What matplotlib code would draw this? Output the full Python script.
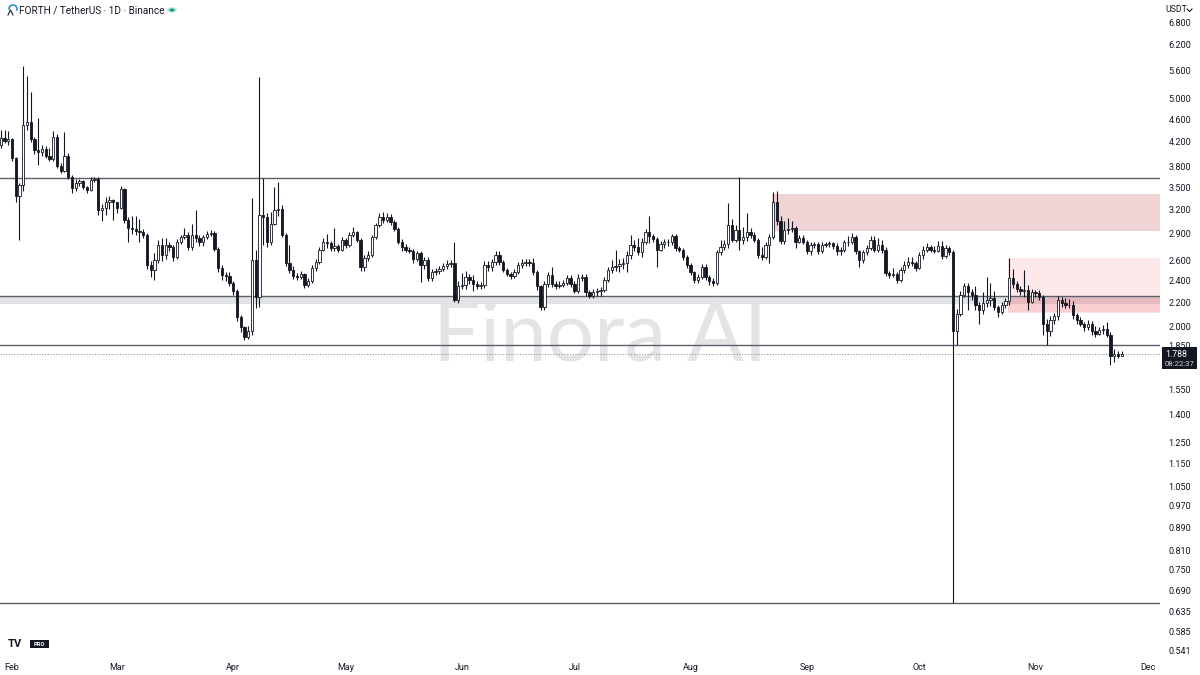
import numpy as np
import pandas as pd
import matplotlib
matplotlib.use("Agg")
import matplotlib.pyplot as plt
import matplotlib.dates as mdates
from matplotlib.patches import Rectangle, Circle, Arc
from matplotlib.ticker import NullLocator

# ---------------- data (FORTH/USDT daily) ----------------
start_date = "2025-01-29"
first_open = 4.14
close = [4.26, 4.22, 4.24, 3.93, 3.37, 3.53, 4.49, 4.55, 4.24, 4.06,
         4.03, 4.08, 3.96, 3.91, 4.28, 3.81, 3.73, 3.96, 3.65, 3.49,
         3.56, 3.58, 3.50, 3.46, 3.60, 3.62, 3.19, 3.22, 3.30, 3.32,
         3.29, 3.22, 3.47, 3.06, 2.97, 2.96, 2.93, 2.92, 2.89, 2.56,
         2.51, 2.61, 2.77, 2.66, 2.77, 2.75, 2.64, 2.81, 2.86, 2.89,
         2.75, 2.89, 2.85, 2.80, 2.86, 2.90, 2.91, 2.73, 2.53, 2.46,
         2.45, 2.38, 2.30, 2.07, 1.99, 1.91, 1.96, 2.61, 2.25, 3.13,
         3.10, 2.81, 3.02, 3.19, 3.20, 2.89, 2.58, 2.51, 2.45, 2.44,
         2.47, 2.36, 2.40, 2.53, 2.59, 2.72, 2.80, 2.79, 2.74, 2.76,
         2.72, 2.83, 2.77, 2.89, 2.92, 2.83, 2.54, 2.63, 2.66, 2.86,
         3.00, 3.10, 3.06, 3.10, 3.04, 2.96, 2.81, 2.75, 2.72, 2.71,
         2.62, 2.68, 2.56, 2.61, 2.43, 2.49, 2.50, 2.52, 2.55, 2.57,
         2.58, 2.22, 2.35, 2.36, 2.44, 2.41, 2.37, 2.35, 2.36, 2.56,
         2.54, 2.59, 2.66, 2.59, 2.51, 2.47, 2.45, 2.49, 2.56, 2.58,
         2.59, 2.58, 2.49, 2.35, 2.16, 2.37, 2.46, 2.37, 2.35, 2.36,
         2.38, 2.43, 2.37, 2.30, 2.43, 2.44, 2.29, 2.26, 2.29, 2.30,
         2.31, 2.41, 2.51, 2.54, 2.55, 2.57, 2.58, 2.66, 2.77, 2.75,
         2.69, 2.81, 2.92, 2.87, 2.84, 2.72, 2.78, 2.80, 2.81, 2.87,
         2.74, 2.72, 2.64, 2.56, 2.49, 2.41, 2.44, 2.54, 2.44, 2.40,
         2.38, 2.69, 2.75, 2.78, 3.00, 2.83, 2.94, 2.83, 2.86, 2.92,
         2.89, 2.83, 2.66, 2.64, 2.77, 2.86, 3.30, 3.05, 2.82, 2.94,
         2.96, 2.97, 2.81, 2.85, 2.81, 2.70, 2.77, 2.78, 2.70, 2.77,
         2.78, 2.79, 2.76, 2.70, 2.72, 2.80, 2.81, 2.86, 2.70, 2.61,
         2.69, 2.74, 2.83, 2.72, 2.77, 2.72, 2.48, 2.46, 2.47, 2.41,
         2.51, 2.56, 2.59, 2.58, 2.53, 2.66, 2.72, 2.75, 2.72, 2.71,
         2.76, 2.65, 2.74, 2.69, 1.96, 2.10, 2.27, 2.35, 2.29, 2.27,
         2.18, 2.13, 2.19, 2.22, 2.24, 2.16, 2.12, 2.18, 2.21, 2.43,
         2.37, 2.32, 2.30, 2.31, 2.20, 2.29, 2.28, 2.25, 2.02, 1.96,
         2.05, 2.08, 2.22, 2.19, 2.18, 2.18, 2.09, 2.05, 2.02, 1.99,
         2.02, 1.96, 1.94, 1.97, 1.98, 1.93, 1.77, 1.79, 1.775, 1.788]
high = [4.40, 4.40, 4.38, 4.26, 3.95, 3.56, 5.70, 5.47, 5.14, 4.28,
        4.62, 4.14, 4.12, 4.09, 4.38, 4.33, 3.85, 4.36, 4.01, 3.67,
        3.62, 3.62, 3.60, 3.52, 3.64, 3.65, 3.65, 3.27, 3.36, 3.37,
        3.34, 3.30, 3.52, 3.49, 3.10, 3.11, 3.11, 3.08, 2.95, 2.91,
        2.60, 2.68, 2.83, 2.85, 2.85, 2.80, 2.77, 2.84, 2.89, 2.97,
        2.92, 3.02, 3.19, 2.88, 2.89, 2.93, 2.94, 2.93, 2.75, 2.56,
        2.49, 2.49, 2.40, 2.32, 2.09, 2.00, 2.00, 3.35, 2.72, 5.45,
        3.63, 3.15, 3.17, 3.50, 3.57, 3.25, 2.91, 2.77, 2.55, 2.48,
        2.50, 2.48, 2.43, 2.56, 2.62, 2.75, 2.85, 2.90, 2.82, 2.97,
        2.78, 2.86, 2.85, 2.92, 2.98, 2.93, 2.85, 2.66, 2.70, 2.88,
        3.03, 3.15, 3.17, 3.15, 3.14, 3.06, 2.98, 2.84, 2.78, 2.75,
        2.73, 2.71, 2.70, 2.64, 2.64, 2.52, 2.53, 2.55, 2.58, 2.61,
        2.61, 2.81, 2.40, 2.48, 2.50, 2.47, 2.46, 2.40, 2.39, 2.60,
        2.60, 2.62, 2.70, 2.70, 2.61, 2.53, 2.49, 2.52, 2.59, 2.62,
        2.62, 2.62, 2.63, 2.51, 2.36, 2.40, 2.49, 2.54, 2.40, 2.40,
        2.41, 2.46, 2.46, 2.40, 2.47, 2.47, 2.47, 2.31, 2.32, 2.33,
        2.34, 2.44, 2.54, 2.61, 2.72, 2.62, 2.63, 2.70, 2.89, 2.83,
        2.85, 2.85, 2.95, 3.11, 2.90, 2.86, 2.82, 2.84, 2.84, 2.90,
        2.90, 2.76, 2.74, 2.66, 2.58, 2.50, 2.47, 2.57, 2.57, 2.46,
        2.43, 2.72, 2.83, 2.83, 3.28, 3.08, 3.00, 3.65, 2.98, 3.15,
        2.97, 2.92, 2.85, 2.75, 2.80, 2.90, 3.43, 3.44, 3.11, 3.05,
        3.09, 3.05, 2.99, 2.89, 2.88, 2.83, 2.80, 2.81, 2.80, 2.80,
        2.81, 2.82, 2.80, 2.79, 2.75, 2.83, 2.87, 2.91, 2.89, 2.72,
        2.72, 2.77, 2.87, 2.87, 2.85, 2.83, 2.75, 2.50, 2.53, 2.49,
        2.54, 2.60, 2.64, 2.64, 2.60, 2.69, 2.76, 2.79, 2.77, 2.76,
        2.82, 2.82, 2.77, 2.76, 2.72, 2.14, 2.30, 2.38, 2.38, 2.32,
        2.35, 2.20, 2.29, 2.44, 2.38, 2.30, 2.18, 2.20, 2.24, 2.63,
        2.52, 2.40, 2.35, 2.51, 2.36, 2.32, 2.31, 2.31, 2.27, 2.06,
        2.08, 2.11, 2.26, 2.25, 2.24, 2.23, 2.21, 2.11, 2.07, 2.03,
        2.05, 2.04, 2.00, 1.99, 2.01, 2.03, 1.95, 1.82, 1.81, 1.81]
low = [4.10, 4.18, 4.15, 3.88, 3.30, 2.83, 3.45, 4.40, 4.20, 4.00,
       3.83, 3.96, 3.93, 3.88, 3.88, 3.78, 3.70, 3.72, 3.62, 3.42,
       3.44, 3.52, 3.47, 3.42, 3.44, 3.57, 3.13, 3.05, 3.13, 3.20,
       3.06, 3.15, 3.20, 3.03, 2.80, 2.90, 2.88, 2.81, 2.85, 2.52,
       2.44, 2.41, 2.58, 2.60, 2.62, 2.70, 2.60, 2.62, 2.78, 2.84,
       2.72, 2.72, 2.80, 2.76, 2.76, 2.84, 2.87, 2.70, 2.49, 2.41,
       2.40, 2.35, 2.27, 2.04, 1.95, 1.89, 1.90, 1.93, 2.15, 2.16,
       2.77, 2.75, 2.77, 3.00, 3.12, 2.86, 2.55, 2.48, 2.42, 2.41,
       2.42, 2.33, 2.34, 2.38, 2.50, 2.57, 2.70, 2.74, 2.70, 2.70,
       2.69, 2.70, 2.74, 2.75, 2.86, 2.80, 2.50, 2.50, 2.60, 2.64,
       2.84, 2.98, 3.03, 3.04, 3.00, 2.93, 2.78, 2.70, 2.69, 2.68,
       2.58, 2.60, 2.39, 2.52, 2.40, 2.40, 2.46, 2.47, 2.50, 2.52,
       2.54, 2.20, 2.19, 2.32, 2.32, 2.37, 2.30, 2.32, 2.32, 2.33,
       2.50, 2.50, 2.56, 2.56, 2.49, 2.45, 2.42, 2.43, 2.47, 2.53,
       2.55, 2.55, 2.46, 2.31, 2.13, 2.13, 2.34, 2.34, 2.32, 2.33,
       2.34, 2.36, 2.34, 2.28, 2.28, 2.40, 2.26, 2.24, 2.24, 2.26,
       2.26, 2.29, 2.39, 2.48, 2.50, 2.49, 2.52, 2.49, 2.62, 2.70,
       2.66, 2.64, 2.78, 2.79, 2.80, 2.54, 2.70, 2.74, 2.76, 2.77,
       2.70, 2.69, 2.61, 2.53, 2.46, 2.38, 2.38, 2.42, 2.41, 2.36,
       2.35, 2.36, 2.66, 2.72, 2.74, 2.80, 2.80, 2.72, 2.78, 2.82,
       2.85, 2.80, 2.63, 2.61, 2.62, 2.58, 2.84, 3.00, 2.78, 2.78,
       2.90, 2.92, 2.74, 2.79, 2.78, 2.67, 2.66, 2.74, 2.67, 2.68,
       2.75, 2.75, 2.73, 2.66, 2.66, 2.69, 2.76, 2.78, 2.67, 2.54,
       2.58, 2.66, 2.72, 2.69, 2.69, 2.68, 2.45, 2.43, 2.44, 2.38,
       2.39, 2.48, 2.53, 2.55, 2.50, 2.52, 2.62, 2.69, 2.69, 2.68,
       2.69, 2.62, 2.63, 2.66, 0.655, 1.85, 2.08, 2.25, 2.13, 2.22,
       2.13, 2.02, 2.10, 2.16, 2.17, 2.13, 2.07, 2.10, 2.15, 2.18,
       2.33, 2.29, 2.27, 2.25, 2.13, 2.19, 2.25, 2.22, 1.93, 1.85,
       1.92, 2.02, 2.05, 2.16, 2.15, 2.15, 2.06, 2.02, 2.00, 1.96,
       1.97, 1.93, 1.91, 1.93, 1.94, 1.91, 1.71, 1.73, 1.76, 1.77]

price_ticks = [6.8, 6.2, 5.6, 5.0, 4.6, 4.2, 3.8, 3.5, 3.2, 2.9, 2.6, 2.4, 2.2,
               2.0, 1.85, 1.55, 1.4, 1.25, 1.15, 1.05, 0.97, 0.89, 0.81, 0.75,
               0.69, 0.635, 0.585, 0.541]
month_ticks = ["2025-02-01", "2025-03-01", "2025-04-01", "2025-05-01", "2025-06-01",
               "2025-07-01", "2025-08-01", "2025-09-01", "2025-10-01", "2025-11-01",
               "2025-12-01"]
month_labels = ["Feb", "Mar", "Apr", "May", "Jun", "Jul", "Aug", "Sep", "Oct", "Nov", "Dec"]

levels = [3.63, 2.258, 1.853, 0.655]          # horizontal levels
grey_band = (2.186, 2.255)
zone_a = ("2025-08-23", 2.93, 3.40)           # supply zone (start, low, high)
zone_b = ("2025-10-25", 2.12, 2.63)
zone_c = ("2025-10-25", 2.11, 2.255)
last_price = 1.788
countdown = "08:22:37"

# ---------------- derived ----------------
close = np.array(close)
high = np.array(high)
low = np.array(low)
dates = pd.date_range(start_date, periods=len(close), freq="D")
xd = mdates.date2num(dates)
open_ = np.concatenate([[first_open], close[:-1]])
high = np.maximum(high, np.maximum(open_, close))
low = np.minimum(low, np.minimum(open_, close))
up = close >= open_

plt.rcParams['font.family'] = ['Roboto', 'DejaVu Sans']

W, H = 1200, 675
fig = plt.figure(figsize=(12, 6.75), dpi=100)
fig.patch.set_facecolor("white")
ax_bottom_px = 655
ax = fig.add_axes([0, (H - ax_bottom_px) / H, 1160 / W, ax_bottom_px / H])
ax.set_facecolor("white")
ax.set_yscale("log")
ax.set_ylim(0.532, 7.43)

feb1 = mdates.date2num(pd.Timestamp("2025-02-01"))
px_per_day = 3.749
x_left = feb1 - 12 / px_per_day
x_right = x_left + 1160 / px_per_day
ax.set_xlim(x_left, x_right)

for s in ax.spines.values():
    s.set_visible(False)

# zones
def zone(start, lo, hi, color, alpha=1.0, z=1):
    x0 = mdates.date2num(pd.Timestamp(start)) - 0.3
    ax.add_patch(Rectangle((x0, lo), x_right - x0, hi - lo, facecolor=color,
                           edgecolor="none", alpha=alpha, zorder=z))

ax.axhspan(grey_band[0], grey_band[1], color="#e2e3e6", zorder=1, lw=0)
zone(zone_a[0], zone_a[1], zone_a[2], "#efd3d5", z=1.2)
zone(zone_b[0], zone_b[1], zone_b[2], "#f23645", alpha=0.11, z=1.2)
zone(zone_c[0], zone_c[1], zone_c[2], "#f23645", alpha=0.14, z=1.3)

for lv in levels:
    ax.axhline(lv, color="#5d606b", lw=1.0, zorder=2)
ax.axhline(last_price, color="#9598a1", lw=0.8, ls=(0, (1, 1.5)), zorder=2)

# watermark
ax.text(600 / 1160, 1 - 338 / 655, "Finora AI", transform=ax.transAxes,
        ha="center", va="center", fontsize=60, color="#e4e4e6",
        family=["Lato", "DejaVu Sans"], weight="normal", zorder=1.5)

# candles
ax.vlines(xd, low, high, color="#131722", lw=0.8, zorder=3)
body_lo = np.minimum(open_, close)
body_h = np.abs(close - open_)
ax.bar(xd, body_h, bottom=body_lo, width=0.62,
       color=np.where(up, "white", "#131722"), edgecolor="#131722",
       linewidth=0.6, zorder=4)

# price axis
ax.yaxis.tick_right()
ax.yaxis.set_minor_locator(NullLocator())
ax.set_yticks(price_ticks)
ax.set_yticklabels([f"{t:.3f}" for t in price_ticks])
ax.tick_params(axis="y", length=0, pad=6, labelsize=6.5, labelcolor="#131722")
ax.xaxis.set_minor_locator(NullLocator())
ax.set_xticks(mdates.date2num(pd.to_datetime(month_ticks)))
ax.set_xticklabels(month_labels)
ax.tick_params(axis="x", length=0, pad=6, labelsize=6.5, labelcolor="#131722")

# last price label
fy = lambda ypx: 1 - ypx / H
fig.patches.append(Rectangle((1162 / W, fy(369)), 35 / W, 22 / H, transform=fig.transFigure,
                             facecolor="#131722", edgecolor="none", zorder=5))
fig.text(1165 / W, fy(354), f"{last_price:.3f}", color="white", fontsize=6.3,
         va="center", ha="left", zorder=6)
fig.text(1164.5 / W, fy(364), countdown, color="#d1d4dc", fontsize=5.6,
         va="center", ha="left", zorder=6)

# USDT selector
fig.text(1165 / W, fy(10), "USDT", color="#131722", fontsize=6.3, va="center", ha="left")
fig.lines.append(plt.Line2D([1187 / W, 1189.5 / W, 1192 / W], [fy(9), fy(11.5), fy(9)],
                            transform=fig.transFigure, color="#131722", lw=0.8))

# title
fig.text(19 / W, fy(10), "FORTH / TetherUS · 1D · Binance", color="#131722",
         fontsize=7.2, va="center", ha="left")
fig.patches.append(Circle((172 / W, fy(10)), 5 / W, transform=fig.transFigure,
                          facecolor="#bfe8df", edgecolor="none"))
fig.patches.append(Circle((172 / W, fy(10)), 2.6 / W, transform=fig.transFigure,
                          facecolor="#089981", edgecolor="none"))
# small exchange logo (drawn shape)
fig.patches.append(Arc((13 / W, fy(9)), 8 / W, 8 / H, theta1=-40, theta2=200,
                       transform=fig.transFigure, color="#2a8fbd", lw=1.2))
fig.lines.append(plt.Line2D([8 / W, 10.5 / W, 13 / W], [fy(15), fy(10), fy(15)],
                            transform=fig.transFigure, color="#131722", lw=0.8))

# TV PRO logo
fig.text(8 / W, fy(644), "TV", color="#131722", fontsize=8, weight="bold",
         va="center", ha="left")
fig.patches.append(Rectangle((30 / W, fy(648)), 19 / W, 8 / H, transform=fig.transFigure,
                             facecolor="#131722", edgecolor="none"))
fig.text(39.5 / W, fy(644), "PRO", color="white", fontsize=4.2, weight="bold",
         va="center", ha="center")

fig.savefig("out.png", dpi=100, facecolor="white")
